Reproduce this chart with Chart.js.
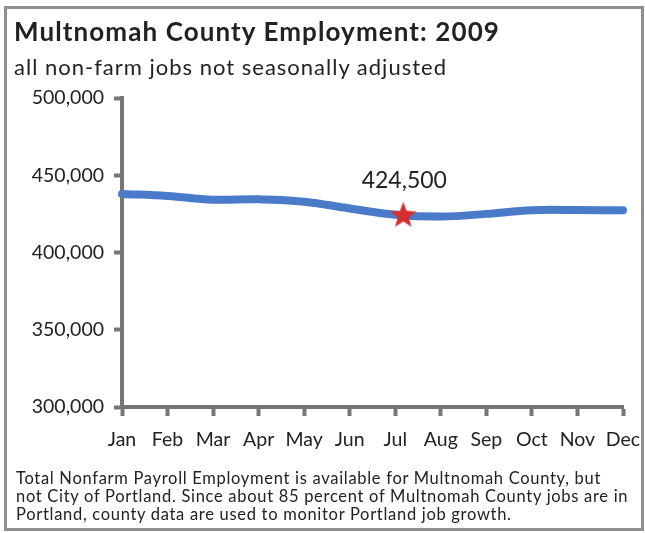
<!DOCTYPE html>
<html>
<head>
<meta charset="utf-8">
<script src="https://cdn.jsdelivr.net/npm/chart.js@4.4.1/dist/chart.umd.min.js"></script>
<style>
  html, body { margin: 0; padding: 0; background: #fff; }
  #wrap { position: relative; width: 645px; height: 533px; overflow: hidden; font-family: Lato, "Open Sans", sans-serif; color: #222; }
  #frame { position: absolute; left: 4px; top: 6px; width: 634px; height: 519px; border: 3px solid #8f8f8f; }
  #title { position: absolute; left: 14px; top: 15px; font-size: 26px; font-weight: bold; letter-spacing: 1.1px; white-space: nowrap; }
  #subtitle { position: absolute; left: 14px; top: 53px; font-size: 22px; letter-spacing: 1px; white-space: nowrap; }
  #note { position: absolute; left: 16px; top: 469px; font-size: 16.5px; line-height: 18px; letter-spacing: 0.7px; white-space: nowrap; }
  canvas { position: absolute; left: 0; top: 0; }
</style>
</head>
<body>
<div id="wrap">
  <div id="frame"></div>
  <canvas id="chart" width="645" height="533"></canvas>
  <div id="title">Multnomah County Employment: 2009</div>
  <div id="subtitle">all non-farm jobs not seasonally adjusted</div>
  <div id="note">Total Nonfarm Payroll Employment is available for Multnomah County, but<br>not City of Portland. Since about 85 percent of Multnomah County jobs are in<br>Portland, county data are used to monitor Portland job growth.</div>
</div>
<script>
// data
const months = ["Jan", "Feb", "Mar", "Apr", "May", "Jun", "Jul", "Aug", "Sep", "Oct", "Nov", "Dec"];
const jobs = [437900, 436600, 434200, 434400, 432900, 428500, 424500, 423300, 425000, 427400, 427500, 427300];
const yTicks = [300000, 350000, 400000, 450000, 500000];
const highlightIndex = 6;
const highlightLabel = "424,500";

const AXIS_GREY = "#767676";
const FONT = "Lato, 'Open Sans', sans-serif";

// filled red star marker (drawn a little right of the July point, as in the print)
function makeStar(outer, inner, color, shiftX) {
  const c = document.createElement("canvas");
  const size = Math.ceil(outer * 2 + 2 + shiftX * 2);
  c.width = size;
  c.height = size;
  const g = c.getContext("2d");
  const cx = size / 2 + shiftX, cy = size / 2 + 1;
  g.beginPath();
  for (let i = 0; i < 10; i++) {
    const r = i % 2 === 0 ? outer : inner;
    const a = -Math.PI / 2 + (i * Math.PI) / 5;
    const px = cx + r * Math.cos(a);
    const py = cy + r * Math.sin(a);
    if (i === 0) g.moveTo(px, py); else g.lineTo(px, py);
  }
  g.closePath();
  g.fillStyle = color;
  g.fill();
  return c;
}
const starImg = makeStar(14, 5.8, "#d32f2f", 8);

// value label above the star
const starLabel = {
  id: "starLabel",
  afterDatasetsDraw(chart) {
    const pt = chart.getDatasetMeta(0).data[highlightIndex];
    if (!pt) return;
    const ctx = chart.ctx;
    ctx.save();
    ctx.font = "23px " + FONT;
    ctx.fillStyle = "#222";
    ctx.textAlign = "center";
    ctx.textBaseline = "alphabetic";
    ctx.fillText(highlightLabel, pt.x + 9, pt.y - 27);
    ctx.restore();
  }
};

new Chart(document.getElementById("chart"), {
  type: "line",
  data: {
    labels: months,
    datasets: [{
      data: jobs,
      borderColor: "#4a7bc8",
      borderWidth: 8,
      borderCapStyle: "round",
      borderJoinStyle: "round",
      tension: 0.4,
      fill: false,
      pointStyle: (c) => (c.dataIndex === highlightIndex ? starImg : "circle"),
      pointRadius: (c) => (c.dataIndex === highlightIndex ? 14 : 0),
      pointHoverRadius: 0
    }]
  },
  options: {
    responsive: false,
    animation: false,
    devicePixelRatio: 1,
    layout: { padding: { left: 0, right: 22, top: 98, bottom: 76 } },
    plugins: {
      legend: { display: false },
      tooltip: { enabled: false }
    },
    scales: {
      x: {
        offset: false,
        afterFit: (s) => { s.height = 50; s.paddingLeft = 0; s.paddingRight = 0; },
        grid: {
          drawOnChartArea: false,
          drawTicks: true,
          tickLength: 9,
          tickWidth: 4,
          tickColor: AXIS_GREY
        },
        border: { display: true, color: AXIS_GREY, width: 4 },
        ticks: {
          color: "#222",
          padding: 12,
          maxRotation: 0,
          autoSkip: false,
          font: { family: FONT, size: 19.5 }
        }
      },
      y: {
        min: yTicks[0],
        max: yTicks[yTicks.length - 1],
        afterFit: (s) => { s.width = 122; s.paddingTop = 0; s.paddingBottom = 0; },
        afterBuildTicks: (s) => { s.ticks = yTicks.map((v) => ({ value: v })); },
        grid: {
          drawOnChartArea: false,
          drawTicks: true,
          tickLength: 8,
          tickWidth: 4,
          tickColor: AXIS_GREY
        },
        border: { display: true, color: AXIS_GREY, width: 4 },
        ticks: {
          color: "#222",
          padding: 10,
          font: { family: FONT, size: 19.5 },
          callback: (v) => Number(v).toLocaleString("en-US")
        }
      }
    }
  },
  plugins: [starLabel]
});
</script>
</body>
</html>
